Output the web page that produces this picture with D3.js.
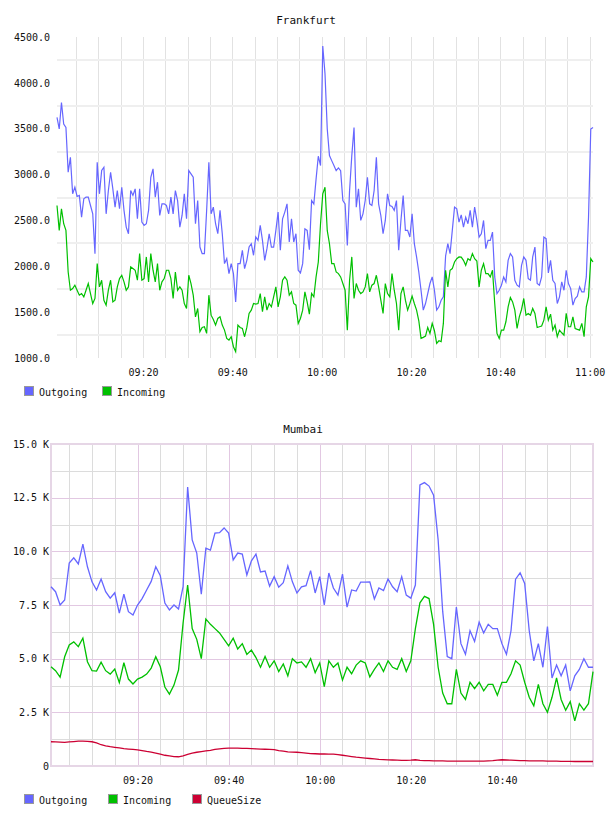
<!DOCTYPE html>
<html><head><meta charset="utf-8">
<script src="https://cdn.jsdelivr.net/npm/d3@7"></script>
<style>
html,body{margin:0;padding:0;background:#fff;}
svg text{font-family:"DejaVu Sans Mono",monospace;fill:#111;}
</style>
</head><body>
<svg id="c" width="608" height="816"></svg>
<script>
// ---------- DATA ----------
const seriesNames = ["Outgoing", "Incoming", "QueueSize"];
const seriesColors = ["#6666ff", "#00c000", "#cc0033"];

// Frankfurt: samples every 30 s starting 09:00:45
const fraStart = "09:00:45";
const fraStepSec = 30;
const fraOutgoing = [3623,3497,3786,3551,3514,3025,3188,2790,2862,2761,2772,2536,2736,2754,2754,2663,2572,2138,3134,2790,
3044,3080,2572,2826,3025,2844,2645,2826,2627,2862,2609,2427,2355,2826,2772,2844,2518,2844,2482,2446,
2464,2609,2971,3062,2754,2917,2554,2681,2681,2663,2572,2754,2572,2826,2717,2427,2554,2790,2518,3044,
3007,2971,2464,2717,2210,2138,2138,2609,3134,2572,2645,2464,2355,2609,2355,2029,2083,1920,2029,1920,
1612,2029,2029,2174,1975,2065,2210,2246,2120,2319,2283,2446,2283,2065,2192,2355,2210,2210,2391,2591,
2174,2518,2591,2681,2265,2518,2265,2355,1957,1928,2029,2409,2391,2181,2717,2680,2950,3200,3098,4402,
4100,3500,3207,3152,3098,3043,3072,3043,2717,2681,2228,2826,3207,3514,2645,2844,2500,2572,2717,2971,
2681,2663,2826,3188,2681,2554,2355,2500,2790,2663,2652,2609,2717,2174,2500,2772,2391,2391,2319,2572,
2246,2102,1938,1739,1522,1594,1703,1812,1884,1739,1522,1558,1630,1667,2112,2246,2138,2391,2645,2627,
2482,2560,2427,2536,2464,2609,2427,2645,2500,2319,2355,2500,2192,2283,2283,2373,1884,1703,1739,1794,
1884,1830,2065,2138,2102,1848,1794,1775,2011,2102,2065,1866,1848,2102,2210,1812,1794,1884,2319,2301,
1928,2065,1848,1812,1594,1667,1830,1739,1957,1812,1757,1576,1649,1674,1775,1721,1721,1884,2536,3496,3514];
const fraIncoming = [2663,2391,2627,2464,2391,1938,1739,1757,1794,1739,1685,1703,1667,1739,1812,1703,1594,1649,2029,1775,
1848,1630,1576,1739,1848,1612,1630,1775,1866,1902,1830,1739,1775,1993,1975,1957,1848,2138,1848,1866,
2102,1830,2138,1957,1830,2029,1739,1830,1866,1957,1957,1866,1649,1938,1739,1775,1739,1594,1540,1902,
1812,1685,1449,1540,1286,1333,1341,1268,1685,1467,1420,1359,1431,1449,1359,1304,1214,1196,1232,1123,
1069,1359,1333,1323,1232,1333,1486,1522,1594,1587,1594,1703,1504,1667,1522,1594,1558,1667,1775,1558,
1667,1848,1884,1848,1685,1721,1594,1576,1377,1431,1522,1721,1612,1478,1703,1667,1884,2047,2464,2790,
2862,2391,2246,2029,2029,1938,1920,1884,1812,1739,1304,1848,2102,1649,1812,1739,1703,1721,1775,1920,
1721,1794,1812,1902,1775,1630,1486,1812,1703,1667,1920,1739,1594,1304,1703,1775,1630,1522,1594,1674,
1594,1522,1406,1214,1225,1239,1333,1268,1377,1297,1160,1188,1178,1377,1957,1775,1957,1975,2047,2083,
2102,2100,2065,2011,2083,2065,2138,2083,2058,1775,1957,2029,1920,1920,1884,1957,1594,1268,1214,1304,
1304,1395,1558,1659,1612,1522,1322,1449,1529,1649,1467,1486,1467,1540,1486,1333,1341,1348,1413,1558,
1413,1478,1304,1359,1232,1304,1275,1250,1486,1341,1341,1449,1322,1312,1304,1377,1232,1558,1667,2083,2047];
const fraYTicks = [1000,1500,2000,2500,3000,3500,4000,4500];
const fraXTicks = ["09:20","09:40","10:00","10:20","10:40","11:00"];

// Mumbai: samples every minute starting 09:01, values in thousands
const mumStart = "09:01:00";
const mumStepSec = 60;
const mumOutgoing = [8.35,8.12,7.5,7.73,9.45,9.70,9.41,10.34,9.28,8.58,8.2,8.71,8.12,7.82,8.07,7.12,8.0,7.19,7.03,7.5,
7.8,8.2,8.6,9.28,8.86,7.59,7.27,7.5,7.31,8.35,13.0,10.53,9.92,8.0,10.15,10.06,10.85,10.87,11.09,10.85,
9.6,9.92,9.87,8.9,9.56,9.87,9.04,9.08,8.38,8.82,8.33,8.54,9.32,8.58,8.06,8.35,8.4,9.1,8.06,8.82,
7.5,8.99,8.29,7.96,8.94,7.4,8.2,8.15,8.57,8.57,8.58,7.78,8.29,8.17,8.71,8.35,8.12,8.82,7.96,7.82,
8.43,13.09,13.2,13.04,12.62,10.53,7.2,5.1,5.0,7.4,5.7,5.2,6.3,5.8,6.7,6.2,6.6,6.4,6.4,5.7,
5.2,6.3,8.7,9.0,8.5,6.3,4.9,5.7,4.6,6.5,4.1,4.7,4.2,4.7,3.5,4.2,4.5,5.0,4.6,4.6];
const mumIncoming = [4.62,4.44,4.14,5.09,5.64,5.78,5.56,5.96,4.86,4.44,4.42,4.84,4.44,4.28,4.52,3.88,4.81,4.05,3.82,4.05,
4.14,4.28,4.56,5.09,4.62,3.68,3.35,3.77,4.47,6.66,8.43,6.4,5.9,5.0,6.85,6.6,6.4,6.2,5.9,5.6,
5.95,5.45,5.7,5.2,5.4,5.05,4.6,5.1,4.6,4.9,4.4,4.75,4.2,5.0,4.8,4.85,4.6,5.0,4.35,4.8,
3.7,4.9,4.6,4.8,4.0,4.6,4.3,4.7,4.9,4.8,4.15,4.5,4.8,4.4,4.9,4.6,4.5,5.0,4.4,4.9,
6.4,7.6,7.9,7.8,6.6,4.6,3.4,2.9,2.9,4.5,3.4,3.1,3.9,3.6,3.9,3.5,3.8,3.8,3.3,3.9,
3.9,4.3,4.9,4.7,3.9,3.2,2.8,3.8,2.9,2.5,3.2,4.1,3.1,2.6,3.0,2.1,2.9,2.6,2.9,4.4];
const mumQueue = [1.13,1.12,1.11,1.10,1.12,1.14,1.16,1.16,1.15,1.13,1.08,0.99,0.94,0.90,0.87,0.84,0.81,0.79,0.77,0.75,
0.72,0.68,0.65,0.60,0.55,0.50,0.47,0.44,0.43,0.47,0.54,0.60,0.64,0.67,0.70,0.73,0.77,0.80,0.82,0.83,
0.83,0.83,0.82,0.82,0.81,0.80,0.79,0.78,0.77,0.76,0.72,0.69,0.66,0.65,0.64,0.62,0.60,0.58,0.57,0.56,
0.56,0.55,0.55,0.53,0.50,0.47,0.44,0.41,0.39,0.37,0.35,0.33,0.31,0.30,0.29,0.28,0.27,0.26,0.26,0.27,
0.29,0.26,0.25,0.25,0.24,0.24,0.24,0.23,0.23,0.23,0.23,0.23,0.23,0.23,0.23,0.23,0.24,0.25,0.27,0.29,
0.28,0.27,0.26,0.25,0.25,0.24,0.24,0.24,0.24,0.23,0.23,0.23,0.22,0.22,0.22,0.21,0.21,0.21,0.21,0.21];
const mumYTicks = [0,2.5,5,7.5,10,12.5,15];
const mumXTicks = ["09:20","09:40","10:00","10:20","10:40"];

// ---------- HELPERS ----------
const parseT = d3.timeParse("%H:%M:%S");
const parseHM = d3.timeParse("%H:%M");
function times(start, step, n){ const t0 = parseT(start); return d3.range(n).map(i => new Date(t0.getTime() + i*step*1000)); }

const svg = d3.select("#c");
svg.append("rect").attr("width",608).attr("height",816).attr("fill","#fff");

function legend(g, y, xs, names, colors){
  names.forEach((n,i)=>{
    g.append("rect").attr("x",xs[i]+0.5).attr("y",y-5.5).attr("width",9).attr("height",9)
      .attr("fill",colors[i]).attr("stroke","#999").attr("stroke-width",1);
    g.append("text").attr("x",xs[i]+15).attr("y",y+3.5).attr("font-size",10).text(n);
  });
}

// ---------- FRANKFURT ----------
(function(){
  const tt = times(fraStart, fraStepSec, fraOutgoing.length);
  const x = d3.scaleTime().domain([tt[0], new Date(tt[tt.length-1].getTime())]).range([57, 593]);
  const y = d3.scaleLinear().domain([1000, 4500]).range([358, 37]);
  const g = svg.append("g");
  g.append("text").attr("x",306).attr("y",24).attr("text-anchor","middle").attr("font-size",11).text("Frankfurt");
  // vertical grid every 5 minutes
  const vgrid = d3.timeMinute.every(5).range(tt[0], tt[tt.length-1]);
  g.append("g").selectAll("line").data(vgrid).join("line")
    .attr("x1",d=>Math.round(x(d))+0.5).attr("x2",d=>Math.round(x(d))+0.5)
    .attr("y1",37).attr("y2",358).attr("stroke","#e2e2e2").attr("stroke-width",1);
  // horizontal grid at half steps
  const hgrid = fraYTicks.slice(0,-1).map(v=>v+250);
  g.append("g").selectAll("line").data(hgrid).join("line")
    .attr("x1",57).attr("x2",593).attr("y1",d=>Math.round(y(d))).attr("y2",d=>Math.round(y(d)))
    .attr("stroke","#efefef").attr("stroke-width",2);
  // y axis labels
  const ya = g.append("g").attr("transform","translate(57,0)")
    .call(d3.axisLeft(y).tickValues(fraYTicks).tickSize(0).tickPadding(7).tickFormat(d3.format(".1f")));
  ya.select(".domain").remove();
  ya.selectAll("text").attr("font-size",10).attr("font-family","DejaVu Sans Mono").attr("fill","#111");
  // x axis labels
  const xa = g.append("g").attr("transform","translate(0,358)")
    .call(d3.axisBottom(x).tickValues(fraXTicks.map(s=>parseHM(s))).tickSize(0).tickPadding(11).tickFormat(d3.timeFormat("%H:%M")));
  xa.select(".domain").remove();
  xa.selectAll("text").attr("font-size",10).attr("font-family","DejaVu Sans Mono").attr("fill","#111");
  // lines
  const line = d3.line().x((d,i)=>x(tt[i])).y(d=>y(d));
  g.append("path").datum(fraOutgoing).attr("d",line).attr("fill","none").attr("stroke",seriesColors[0]).attr("stroke-width",1.2);
  g.append("path").datum(fraIncoming).attr("d",line).attr("fill","none").attr("stroke",seriesColors[1]).attr("stroke-width",1.2);
  legend(g, 392, [24,102], seriesNames.slice(0,2), seriesColors.slice(0,2));
})();

// ---------- MUMBAI ----------
(function(){
  const tt = times(mumStart, mumStepSec, mumOutgoing.length);
  const x = d3.scaleTime().domain([tt[0], tt[tt.length-1]]).range([51, 593]);
  const y = d3.scaleLinear().domain([0, 15]).range([766, 444]);
  const g = svg.append("g");
  g.append("text").attr("x",303).attr("y",433).attr("text-anchor","middle").attr("font-size",11).text("Mumbai");
  const majorT = mumXTicks.map(s=>parseHM(s));
  const allT = d3.timeMinute.every(5).range(tt[0], tt[tt.length-1]);
  const minorT = allT.filter(d=>d.getMinutes()%20!==0);
  const minorY = mumYTicks.slice(0,-1).map(v=>v+1.25);
  // minor grid
  g.append("g").selectAll("line").data(minorT).join("line")
    .attr("x1",d=>Math.round(x(d))+0.5).attr("x2",d=>Math.round(x(d))+0.5).attr("y1",444).attr("y2",766)
    .attr("stroke","#dcdcdc");
  g.append("g").selectAll("line").data(minorY).join("line")
    .attr("x1",51).attr("x2",593).attr("y1",d=>Math.round(y(d))+0.5).attr("y2",d=>Math.round(y(d))+0.5)
    .attr("stroke","#dcdcdc");
  // major grid
  g.append("g").selectAll("line").data(majorT).join("line")
    .attr("x1",d=>Math.round(x(d))+0.5).attr("x2",d=>Math.round(x(d))+0.5).attr("y1",444).attr("y2",766)
    .attr("stroke","#e2c8e2");
  g.append("g").selectAll("line").data(mumYTicks.slice(1,-1)).join("line")
    .attr("x1",51).attr("x2",593).attr("y1",d=>Math.round(y(d))+0.5).attr("y2",d=>Math.round(y(d))+0.5)
    .attr("stroke","#e2c8e2");
  // frame
  g.append("rect").attr("x",51).attr("y",444).attr("width",542).attr("height",322)
    .attr("fill","none").attr("stroke","#e6d6e6").attr("stroke-width",2);
  // y labels
  const ya = g.append("g").attr("transform","translate(51,0)")
    .call(d3.axisLeft(y).tickValues(mumYTicks).tickSize(0).tickPadding(2)
      .tickFormat(v => v===0 ? "0" : d3.format(".1f")(v)+" K"));
  ya.select(".domain").remove();
  ya.selectAll("text").attr("font-size",10).attr("font-family","DejaVu Sans Mono").attr("fill","#111");
  // x labels
  const xa = g.append("g").attr("transform","translate(0,766)")
    .call(d3.axisBottom(x).tickValues(majorT).tickSize(0).tickPadding(11).tickFormat(d3.timeFormat("%H:%M")));
  xa.select(".domain").remove();
  xa.selectAll("text").attr("font-size",10).attr("font-family","DejaVu Sans Mono").attr("fill","#111");
  const line = d3.line().x((d,i)=>x(tt[i])).y(d=>y(d));
  [mumOutgoing, mumIncoming, mumQueue].forEach((s,k)=>{
    g.append("path").datum(s).attr("d",line).attr("fill","none").attr("stroke",seriesColors[k]).attr("stroke-width",1.3);
  });
  legend(g, 800, [24,108,192], seriesNames, seriesColors);
})();
</script>
</body></html>
